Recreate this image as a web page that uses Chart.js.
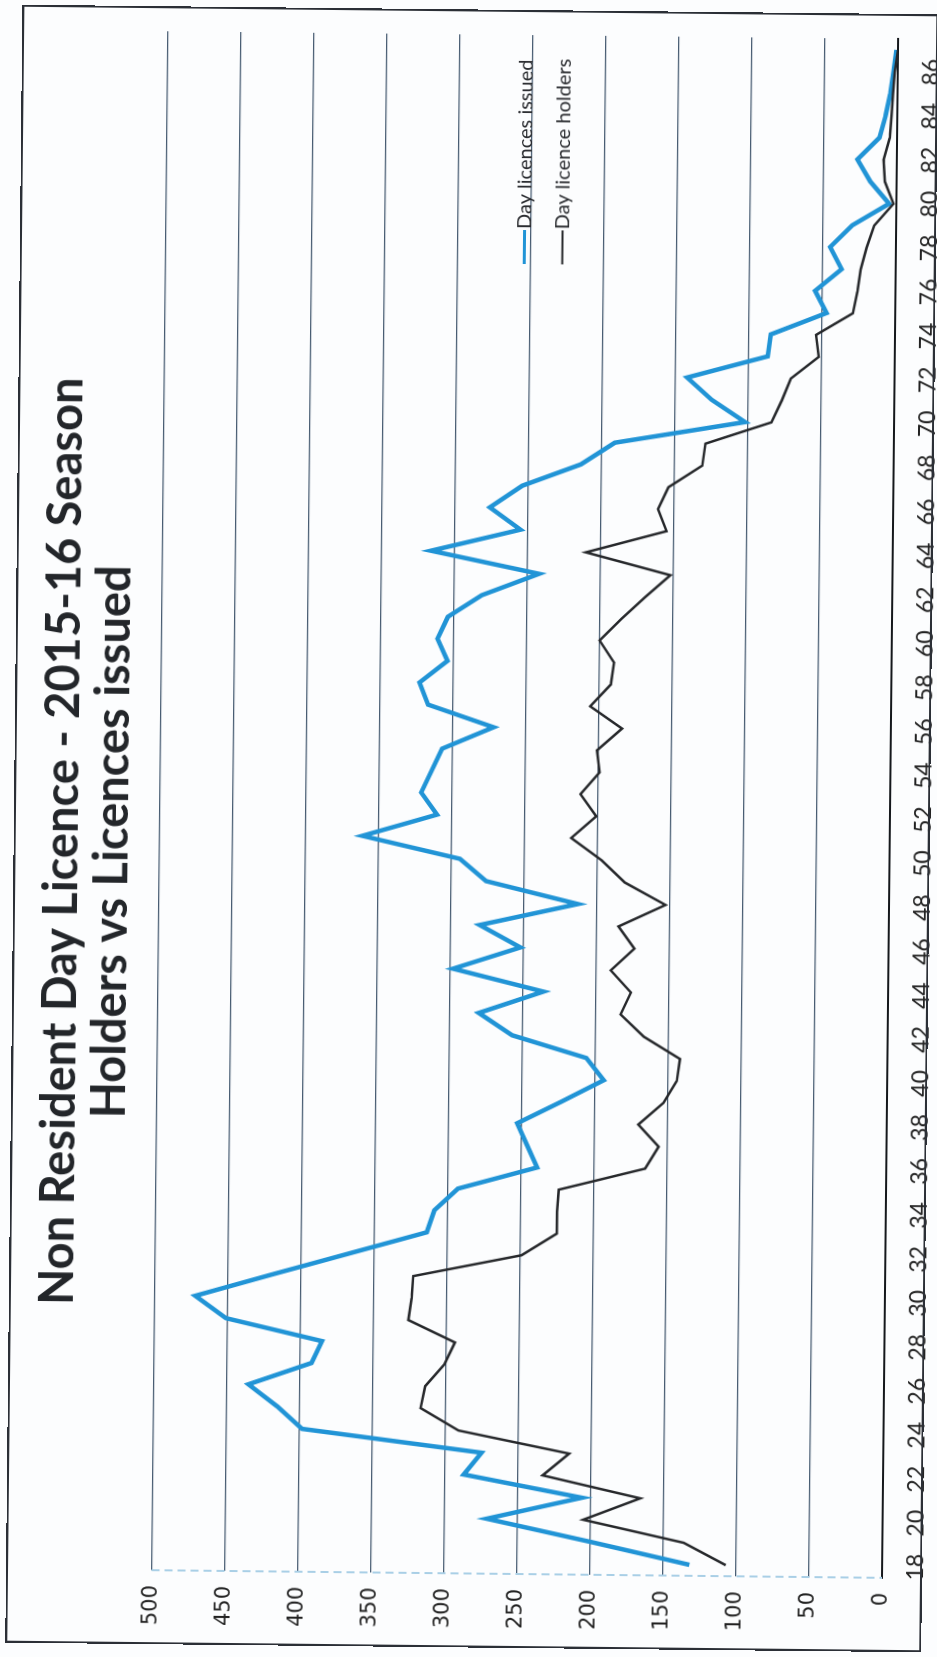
<!DOCTYPE html>
<html>
<head>
<meta charset="utf-8">
<title>Non Resident Day Licence - 2015-16 Season</title>
<script src="https://cdn.jsdelivr.net/npm/chart.js@4.4.1/dist/chart.umd.min.js"></script>
<style>
  html, body { margin: 0; padding: 0; background: #fcfdfe; }
  body { width: 937px; height: 1657px; position: relative; overflow: hidden; }
  /* the printed sheet sits a little askew */
  #sheet { position: absolute; left: 0; top: 0; width: 937px; height: 1657px;
           transform-origin: 516px 1575px; transform: rotate(0.6deg); }
  /* chart is laid out landscape, then turned to read bottom-to-top */
  #wrap { position: absolute; left: 0; top: 1657px; width: 1657px; height: 937px;
          transform-origin: 0 0; transform: rotate(-90deg); }
  #frame { position: absolute; left: 6px; top: 10px; width: 916px; height: 1638px;
           border: 2px solid #2b2f36; box-sizing: border-box; pointer-events: none; }
</style>
</head>
<body>
<div id="sheet">
  <div id="wrap"><canvas id="chart" width="1657" height="937"></canvas></div>
  <div id="frame"></div>
</div>
<script>
const ages = [18, 19, 20, 21, 22, 23, 24, 25, 26, 27, 28, 29, 30, 31, 32, 33, 34, 35, 36, 37,
  38, 39, 40, 41, 42, 43, 44, 45, 46, 47, 48, 49, 50, 51, 52, 53, 54, 55, 56, 57,
  58, 59, 60, 61, 62, 63, 64, 65, 66, 67, 68, 69, 70, 71, 72, 73, 74, 75, 76, 77,
  78, 79, 80, 81, 82, 83, 84, 85, 86, 87];

const licencesIssued = [132, 200, 271, 206, 287, 275, 398, 415, 435, 392, 385, 451, 472, 420, 367, 314, 309, 293, 239, 246,
  253, 223, 194, 206, 257, 280, 236, 298, 252, 280, 213, 276, 294, 361, 310, 321, 314, 307, 272, 317,
  323, 304, 311, 304, 281, 242, 316, 255, 276, 254, 214, 191, 102, 125, 142, 87, 85, 47, 55, 37,
  45, 30, 5, 18, 27, 12, 8, 5, 3, 1];

const licenceHolders = [107, 136, 205, 166, 233, 215, 291, 317, 314, 301, 294, 326, 324, 323, 249, 225, 225, 224, 165, 156,
  170, 153, 144, 142, 167, 183, 176, 190, 174, 185, 153, 181, 197, 218, 201, 212, 199, 201, 184, 206,
  192, 190, 200, 185, 169, 152, 210, 155, 161, 154, 131, 129, 84, 77, 71, 52, 54, 29, 26, 24,
  20, 15, 2, 8, 9, 5, 4, 3, 2, 0];

const titleLines = ["Non Resident Day Licence - 2015-16 Season", "Holders vs Licences issued"];

const BLUE = "#2194d6";
const BLACK = "#26282b";
const GRID = "rgba(38, 62, 88, 0.85)";

// faint dashed line along the value axis
const valueAxisLine = {
  id: "valueAxisLine",
  beforeDatasetsDraw(chart) {
    const { ctx, chartArea } = chart;
    ctx.save();
    ctx.strokeStyle = "#a9cfe6";
    ctx.lineWidth = 2;
    ctx.setLineDash([8, 5]);
    ctx.beginPath();
    ctx.moveTo(chartArea.left, chartArea.top);
    ctx.lineTo(chartArea.left, chartArea.bottom);
    ctx.stroke();
    ctx.restore();
  },
};

// legend sits inside the plot, line sample followed by the series name
const lineLegend = {
  id: "lineLegend",
  afterDatasetsDraw(chart) {
    const { ctx, chartArea } = chart;
    const x0 = chartArea.right - 229;
    const y0 = chartArea.top + 359;
    ctx.save();
    ctx.font = "20px Lato";
    ctx.textBaseline = "middle";
    ctx.fillStyle = "#2a2c30";
    chart.data.datasets.forEach((ds, i) => {
      const y = y0 + i * 38;
      ctx.strokeStyle = ds.borderColor;
      ctx.lineWidth = i === 0 ? 3 : 2;
      ctx.beginPath();
      ctx.moveTo(x0, y);
      ctx.lineTo(x0 + 34, y);
      ctx.stroke();
      ctx.fillText(ds.label, x0 + 35, y);
    });
    ctx.restore();
  },
};

new Chart(document.getElementById("chart"), {
  type: "line",
  data: {
    labels: ages,
    datasets: [
      {
        label: "Day licences issued",
        data: licencesIssued,
        borderColor: BLUE,
        borderWidth: 4.5,
        pointRadius: 0,
        order: 2,
      },
      {
        label: "Day licence holders",
        data: licenceHolders,
        borderColor: BLACK,
        borderWidth: 2.5,
        pointRadius: 0,
        order: 1,
      },
    ],
  },
  options: {
    responsive: false,
    animation: false,
    devicePixelRatio: 1,
    layout: { padding: { top: 8, left: 0, right: 35, bottom: 0 } },
    plugins: {
      legend: { display: false },
      tooltip: { enabled: false },
      title: {
        display: true,
        text: titleLines,
        color: "#23262a",
        font: { family: "Lato", weight: "bold", size: 47, lineHeight: 1.08 },
        padding: { top: 21, bottom: 21 },
      },
    },
    scales: {
      x: {
        type: "category",
        offset: true,
        grid: { display: false },
        border: { color: "#15181c", width: 2 },
        ticks: {
          autoSkip: false,
          maxRotation: 0,
          padding: 12,
          color: "#222",
          font: { family: "Lato", size: 23 },
          // only every second age gets a label
          callback: function (value, index) {
            return index % 2 === 0 ? this.getLabelForValue(value) : "";
          },
        },
        afterFit: (scale) => { scale.height = 55; },
      },
      y: {
        min: 0,
        max: 500,
        ticks: {
          stepSize: 50,
          padding: 15,
          color: "#222",
          font: { family: "DejaVu Sans", size: 21 },
        },
        grid: { color: GRID, lineWidth: 1.3, drawTicks: false },
        border: { display: false },
        afterFit: (scale) => { scale.width = 83; },
      },
    },
  },
  plugins: [valueAxisLine, lineLegend],
});
</script>
</body>
</html>
